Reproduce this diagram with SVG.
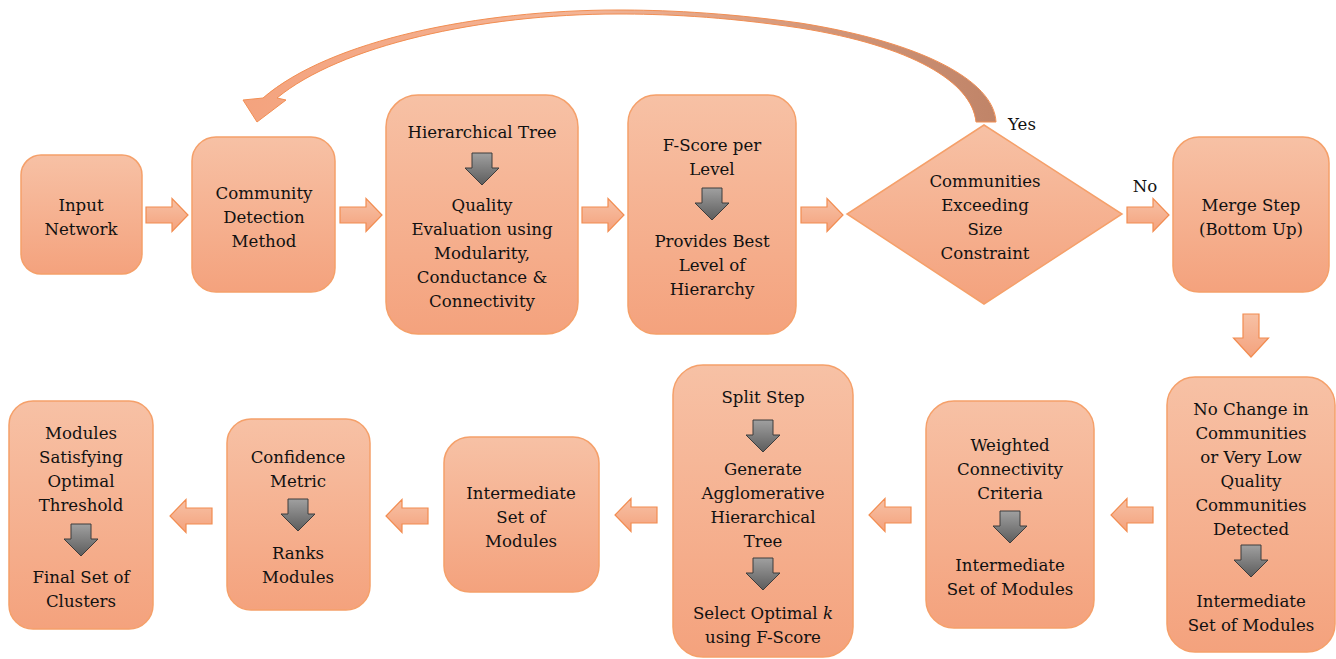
<svg xmlns="http://www.w3.org/2000/svg" width="1336" height="659" viewBox="0 0 1336 659">
<style>
.box{fill:url(#gBox);stroke:#f5a06a;stroke-width:1.5}
.oa{fill:url(#gBox);stroke:#f28c50;stroke-width:1.2}
.ga{fill:url(#gGrey);stroke:#3c3c3c;stroke-width:1}
.t{font-family:'DejaVu Serif','Liberation Serif',serif;font-size:16.6px;fill:#111;text-anchor:middle}
</style>
<defs>
<linearGradient id="gBox" x1="0" y1="0" x2="0" y2="1">
<stop offset="0" stop-color="#f7c1a5"/>
<stop offset="1" stop-color="#f4a27d"/>
</linearGradient>
<linearGradient id="gGrey" x1="0" y1="0" x2="0" y2="1">
<stop offset="0" stop-color="#a0a0a0"/>
<stop offset="1" stop-color="#5c5c5c"/>
</linearGradient>
<linearGradient id="gCurve" x1="0" y1="0" x2="1" y2="0">
<stop offset="0" stop-color="#f4a37e"/>
<stop offset="0.45" stop-color="#f3b496"/>
<stop offset="0.75" stop-color="#d4987b"/>
<stop offset="1" stop-color="#c08468"/>
</linearGradient>
<path id="ra" d="M0,-8 H26 V-16.5 L42,0 L26,16.5 V8 H0 Z"/>
<path id="la" d="M0,-8 H-26 V-16.5 L-42,0 L-26,16.5 V8 H0 Z"/>
<path id="ga" d="M-10,0 H10 V15 H17 L0,32 L-17,15 H-10 Z"/>
<path id="da" d="M-8,0 H8 V24 H17.5 L0,43 L-17.5,24 H-8 Z"/>
</defs>

<g id="connectors">
<path d="M996,122 C994,80 920,42 800,23 C720,12 660,10 618,10 C480,10 330,40 263,98 L243,100 L257,122 L286,100 L277,98 C340,46 480,14 618,14 C660,14 720,16 800,28 C912,46 972,82 976,122 Z" fill="url(#gCurve)" stroke="#f28e52" stroke-width="1"/>
<use href="#ra" class="oa" x="146" y="215"/>
<use href="#ra" class="oa" x="340" y="215"/>
<use href="#ra" class="oa" x="582" y="215"/>
<use href="#ra" class="oa" x="801" y="215"/>
<use href="#ra" class="oa" x="1127" y="215"/>
<use href="#da" class="oa" x="1251" y="314"/>
<use href="#la" class="oa" x="1153" y="515"/>
<use href="#la" class="oa" x="911" y="515"/>
<use href="#la" class="oa" x="657" y="515"/>
<use href="#la" class="oa" x="428" y="516"/>
<use href="#la" class="oa" x="212" y="516"/>
<text class="t" x="1022" y="130">Yes</text>
<text class="t" x="1145" y="192">No</text>
</g>

<g id="input">
<rect class="box" x="21" y="155" width="121" height="119" rx="20"/>
<text class="t" x="81" y="211">Input</text>
<text class="t" x="81" y="235">Network</text>
</g>

<g id="community">
<rect class="box" x="192" y="137" width="143" height="155" rx="24"/>
<text class="t" x="264" y="199">Community</text>
<text class="t" x="264" y="223">Detection</text>
<text class="t" x="264" y="247">Method</text>
</g>

<g id="hierarchical">
<rect class="box" x="386" y="95" width="192" height="239" rx="32"/>
<text class="t" x="482" y="138">Hierarchical Tree</text>
<use href="#ga" class="ga" x="482" y="153"/>
<text class="t" x="482" y="211">Quality</text>
<text class="t" x="482" y="235">Evaluation using</text>
<text class="t" x="482" y="259">Modularity,</text>
<text class="t" x="482" y="283">Conductance &amp;</text>
<text class="t" x="482" y="307">Connectivity</text>
</g>

<g id="fscore">
<rect class="box" x="628" y="95" width="168" height="239" rx="28"/>
<text class="t" x="712" y="151">F-Score per</text>
<text class="t" x="712" y="175">Level</text>
<use href="#ga" class="ga" x="712" y="188"/>
<text class="t" x="712" y="247">Provides Best</text>
<text class="t" x="712" y="271">Level of</text>
<text class="t" x="712" y="295">Hierarchy</text>
</g>

<g id="decision">
<polygon class="box" points="984,125 1122,214 984,304 847,214"/>
<text class="t" x="985" y="187">Communities</text>
<text class="t" x="985" y="211">Exceeding</text>
<text class="t" x="985" y="235">Size</text>
<text class="t" x="985" y="259">Constraint</text>
</g>

<g id="merge">
<rect class="box" x="1173" y="137" width="156" height="155" rx="26"/>
<text class="t" x="1251" y="211">Merge Step</text>
<text class="t" x="1251" y="235">(Bottom Up)</text>
</g>

<g id="nochange">
<rect class="box" x="1167" y="377" width="168" height="275" rx="28"/>
<text class="t" x="1251" y="415">No Change in</text>
<text class="t" x="1251" y="439">Communities</text>
<text class="t" x="1251" y="463">or Very Low</text>
<text class="t" x="1251" y="487">Quality</text>
<text class="t" x="1251" y="511">Communities</text>
<text class="t" x="1251" y="535">Detected</text>
<use href="#ga" class="ga" x="1251" y="545"/>
<text class="t" x="1251" y="607">Intermediate</text>
<text class="t" x="1251" y="631">Set of Modules</text>
</g>

<g id="weighted">
<rect class="box" x="926" y="401" width="168" height="227" rx="28"/>
<text class="t" x="1010" y="451">Weighted</text>
<text class="t" x="1010" y="475">Connectivity</text>
<text class="t" x="1010" y="499">Criteria</text>
<use href="#ga" class="ga" x="1010" y="511"/>
<text class="t" x="1010" y="571">Intermediate</text>
<text class="t" x="1010" y="595">Set of Modules</text>
</g>

<g id="split">
<rect class="box" x="673" y="365" width="180" height="292" rx="30"/>
<text class="t" x="763" y="403">Split Step</text>
<use href="#ga" class="ga" x="763" y="420"/>
<text class="t" x="763" y="475">Generate</text>
<text class="t" x="763" y="499">Agglomerative</text>
<text class="t" x="763" y="523">Hierarchical</text>
<text class="t" x="763" y="547">Tree</text>
<use href="#ga" class="ga" x="763" y="558"/>
<text class="t" x="763" y="619">Select Optimal <tspan font-style="italic">k</tspan></text>
<text class="t" x="763" y="643">using F-Score</text>
</g>

<g id="intermediate">
<rect class="box" x="444" y="437" width="155" height="155" rx="26"/>
<text class="t" x="521" y="499">Intermediate</text>
<text class="t" x="521" y="523">Set of</text>
<text class="t" x="521" y="547">Modules</text>
</g>

<g id="confidence">
<rect class="box" x="227" y="419" width="143" height="191" rx="24"/>
<text class="t" x="298" y="463">Confidence</text>
<text class="t" x="298" y="487">Metric</text>
<use href="#ga" class="ga" x="298" y="499"/>
<text class="t" x="298" y="559">Ranks</text>
<text class="t" x="298" y="583">Modules</text>
</g>

<g id="final">
<rect class="box" x="9" y="401" width="144" height="228" rx="24"/>
<text class="t" x="81" y="439">Modules</text>
<text class="t" x="81" y="463">Satisfying</text>
<text class="t" x="81" y="487">Optimal</text>
<text class="t" x="81" y="511">Threshold</text>
<use href="#ga" class="ga" x="81" y="524"/>
<text class="t" x="81" y="583">Final Set of</text>
<text class="t" x="81" y="607">Clusters</text>
</g>
</svg>
